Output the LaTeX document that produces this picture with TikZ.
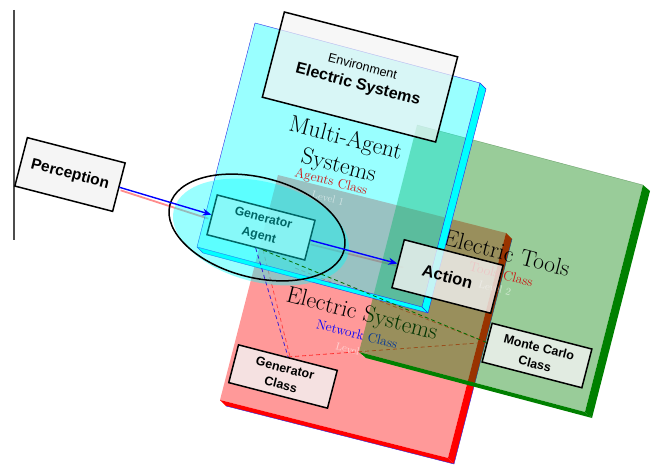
\documentclass[tikz,border=0pt]{standalone}
\usepackage{fontspec}
\newfontfamily\boxfont{Liberation Sans}
\usetikzlibrary{arrows.meta,shapes.geometric,calc}

\definecolor{boxgray}{RGB}{243,243,243}
\definecolor{toolgreen}{RGB}{0,128,0}
\definecolor{agentcyan}{RGB}{0,255,255}
\definecolor{netred}{RGB}{255,0,0}
\definecolor{edgeblue}{RGB}{40,40,230}
\definecolor{classred}{RGB}{205,20,20}

% drawing layers, from the lowest plane up
\pgfdeclarelayer{netlayer}
\pgfdeclarelayer{shadelayer}
\pgfdeclarelayer{toollayer}
\pgfdeclarelayer{agentlayer}
\pgfsetlayers{netlayer,shadelayer,toollayer,agentlayer,main}

\begin{document}
\begin{tikzpicture}[x=1pt,y=-1pt,
  face/.style={fill opacity=0.4},
  side/.style={line width=0.4pt, line join=round},
  planetitle/.style={rotate=-14.5, font=\fontsize{23.5}{28}\selectfont, align=center, inner sep=0pt},
  planeclass/.style={rotate=-14.5, font=\fontsize{13.5}{16}\selectfont, inner sep=0pt},
  planelevel/.style={rotate=-14.5, font=\fontsize{10.5}{12}\selectfont, text=white, text opacity=0.55, inner sep=0pt},
  box/.style={draw=black, line width=1.5pt, fill=boxgray, fill opacity=0.8, text opacity=1,
              rotate=-14.5, inner sep=0pt, align=center, font=\boxfont\bfseries},
  flow/.style={draw=blue, line width=1.4pt, -{Stealth[length=9pt,width=7pt]}},
  flowshadow/.style={draw=netred, opacity=0.45, line width=1.8pt},
  link/.style={line width=0.8pt, dash pattern=on 4pt off 3pt},
]
\useasboundingbox (0,0) rectangle (653,468);

% margin rule on the left
\draw[gray!60!black, line width=1.2pt] (14,10) -- (14,240);

% ---------- plane corners ----------
\coordinate (rTL) at (278,175); \coordinate (rTR) at (506,233);
\coordinate (rBR) at (448,458); \coordinate (rBL) at (220,400);
\coordinate (rTRd) at (512,239); \coordinate (rBRd) at (454,464); \coordinate (rBLd) at (226,406);

\coordinate (gTL) at (417,125); \coordinate (gTR) at (643,185);
\coordinate (gBR) at (585,412); \coordinate (gBL) at (359,352);
\coordinate (gTRd) at (650,191); \coordinate (gBRd) at (592,418); \coordinate (gBLd) at (366,358);

\coordinate (cTL) at (255,23); \coordinate (cTR) at (480,83);
\coordinate (cBR) at (422,307); \coordinate (cBL) at (197,247);
\coordinate (cTRd) at (486,89); \coordinate (cBRd) at (428,313); \coordinate (cBLd) at (203,253);

% ---------- Level 3: network plane ----------
\begin{pgfonlayer}{netlayer}
\fill[netred] (rTR) -- (rTRd) -- (rBRd) -- (rBR) -- cycle;
\fill[netred] (rBL) -- (rBR) -- (rBRd) -- (rBLd) -- cycle;
\draw[edgeblue, side] (rBLd) -- (rBRd) -- (rTRd);
\fill[netred, face] (rTL) -- (rTR) -- (rBR) -- (rBL) -- cycle;
\node[planetitle] (nettitle) at (362,315) {Electric Systems};
\node[planeclass, text=blue] (netclass) at (357,334) {Network Class};
\node[planelevel] (netlevel) at (352,350) {Level 3};
\end{pgfonlayer}

% ---------- Level 2: tools plane ----------
\begin{pgfonlayer}{toollayer}
\fill[toolgreen] (gTR) -- (gTRd) -- (gBRd) -- (gBR) -- cycle;
\fill[toolgreen] (gBL) -- (gBR) -- (gBRd) -- (gBLd) -- cycle;
\fill[toolgreen, face] (gTL) -- (gTR) -- (gBR) -- (gBL) -- cycle;
\draw[toolgreen!60!black, opacity=0.4, line width=0.4pt] (gTL) -- (gTR);
\node[planetitle] (tooltitle) at (507,253) {Electric Tools};
\node[planeclass, text=classred] (toolclass) at (501,274) {Tools Class};
\node[planelevel] (toollevel) at (495,288) {Level 2};
\end{pgfonlayer}

% ---------- Level 1: agents plane ----------
\begin{pgfonlayer}{agentlayer}
\fill[agentcyan] (cTR) -- (cTRd) -- (cBRd) -- (cBR) -- cycle;
\fill[agentcyan] (cBL) -- (cBR) -- (cBRd) -- (cBLd) -- cycle;
\fill[agentcyan, face] (cTL) -- (cTR) -- (cBR) -- (cBL) -- cycle;
\draw[edgeblue, side] (cTL) -- (cTR) -- (cBR) -- (cBL) -- cycle;
\draw[edgeblue, side] (cTR) -- (cTRd) -- (cBRd) -- (cBLd) -- (cBL);
\draw[edgeblue, side] (cBR) -- (cBRd);
\node[planetitle] (agenttitle) at (342,153) {Multi-Agent\\Systems};
\node[planeclass, text=classred] (agentclass) at (331,182) {Agents Class};
\node[planelevel] (agentlevel) at (328,198) {Level 1};
\end{pgfonlayer}

% ---------- environment ----------
\node[box, minimum width=179pt, minimum height=88pt, fill opacity=0.7, font=\boxfont\fontsize{16}{19}\selectfont]
  (environment) at (360,77)
  {{\fontsize{12.6}{15}\selectfont Environment}\\{\bfseries Electric Systems}};

% ---------- agents, actions and classes ----------
\node[box, minimum width=101pt, minimum height=50pt, font=\boxfont\bfseries\fontsize{15.5}{18}\selectfont]
  (perception) at (70,174.5) {Perception};
\node[box, minimum width=101pt, minimum height=41pt, font=\boxfont\bfseries\fontsize{12.3}{18}\selectfont]
  (genagent) at (261,227.5) {Generator\\Agent};
\node[ellipse, fill=agentcyan, fill opacity=0.4, rotate=-14.5, minimum width=180pt, minimum height=100pt, inner sep=0pt]
  (ringfill) at (261,232) {};
\node[ellipse, draw=black, line width=1.5pt, rotate=-14.5, minimum width=180pt, minimum height=100pt, inner sep=0pt]
  (ring) at (257,227.5) {};
\node[box, minimum width=102pt, minimum height=49.5pt, font=\boxfont\bfseries\fontsize{16.5}{18}\selectfont]
  (action) at (447.5,276.5) {Action};
\node[box, minimum width=102pt, minimum height=39pt, font=\boxfont\bfseries\fontsize{12.5}{17}\selectfont]
  (genclass) at (283,376.5) {Generator\\Class};
\node[box, minimum width=103pt, minimum height=40pt, font=\boxfont\bfseries\fontsize{12.5}{17}\selectfont]
  (montecarlo) at (537,355.5) {Monte Carlo\\Class};
\coordinate (gaFoot) at (263,250);
\coordinate (gaShade) at (295,268);

% projections of the links and flows onto the network plane
\begin{pgfonlayer}{shadelayer}
\draw[link, netred, opacity=0.55] (gaFoot) -- ($(genclass.north)+(2,0)$);
\draw[link, netred, opacity=0.7] (genclass.north) -- (montecarlo.west);
\draw[link, netred, opacity=0.6] (gaShade) -- (montecarlo.west);
\draw[flowshadow] ($(perception.east)+(1,3)$) -- ($(genagent.west)+(-3,4)$);
\draw[flowshadow] ($(genagent.east)+(0,4)$) -- ($(action.west)+(6,4)$);
\end{pgfonlayer}

% ---------- links and flows ----------
\draw[link, edgeblue!80!violet] (genagent.south) -- (genclass.north);
\draw[link, toolgreen!85!black] (gaFoot) -- (montecarlo.west);
\draw[flow] (perception.east) -- (genagent.west);
\draw[flow] (genagent.east) -- (action.west);
\end{tikzpicture}
\end{document}
